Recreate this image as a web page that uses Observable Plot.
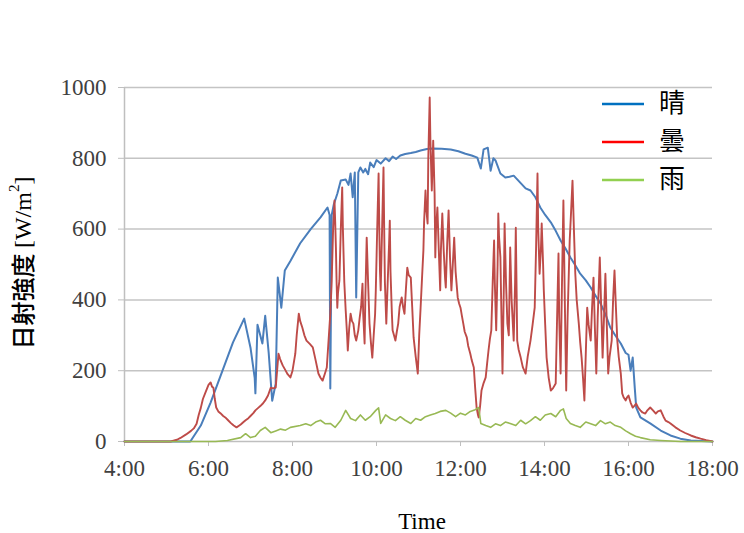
<!DOCTYPE html>
<html><head><meta charset="utf-8">
<script src="https://cdn.jsdelivr.net/npm/d3@7"></script>
<script src="https://cdn.jsdelivr.net/npm/@observablehq/plot@0.6"></script>
<style>body{margin:0;background:#fff}</style>
</head><body><div id="chart"></div>
<script>
// time in minutes since 0:00
const xTicks = [240, 360, 480, 600, 720, 840, 960, 1080];
const xTickLabels = ["4:00", "6:00", "8:00", "10:00", "12:00", "14:00", "16:00", "18:00"];
const yTicks = [0, 200, 400, 600, 800, 1000];
const seriesNames = ["晴", "曇", "雨"];
const seriesColors = ["#4A7EBB", "#BE4B48", "#98B954"];
const legendColors = ["#0070C0", "#FF0000", "#92D050"];
const xLabel = "Time";

// 晴 (clear): [minute, W/m2]
const clear = [[240,0],[334,0],[349,45],[363,110],[380,200],[395,280],[411,347],[420,265],[426,180],[427,136],[430,330],[437,277],[441,355],[446,250],[451,115],[456,163],[459,463],[464,378],[469,483],[477,510],[491,560],[506,600],[520,633],[530,661],[533,640],[534,150],[536,640],[539,670],[544,700],[549,737],[556,740],[560,725],[563,757],[566,690],[569,760],[571,407],[574,760],[577,774],[581,760],[584,770],[588,755],[591,788],[596,775],[600,795],[606,785],[613,800],[618,792],[623,805],[628,798],[634,808],[641,812],[649,815],[656,818],[663,822],[672,826],[680,828],[693,827],[706,825],[717,820],[727,813],[736,808],[744,802],[749,771],[753,825],[759,830],[763,765],[767,800],[770,794],[777,757],[784,746],[790,748],[796,751],[806,730],[813,715],[820,709],[827,690],[834,661],[841,640],[849,619],[856,595],[863,568],[870,545],[877,520],[884,498],[891,474],[899,455],[906,435],[913,412],[920,390],[927,360],[934,322],[941,300],[949,277],[956,250],[960,245],[963,200],[966,237],[969,150],[971,96],[977,68],[991,51],[1006,31],[1020,17],[1034,8],[1049,3],[1080,0]];

// 曇 (cloudy)
const cloudy = [[240,0],[306,0],[315,5],[320,10],[328,20],[335,30],[339,37],[343,50],[346,75],[349,95],[352,120],[356,140],[360,160],[363,167],[365,155],[367,152],[369,120],[371,96],[374,85],[377,80],[381,72],[384,68],[388,60],[392,52],[396,45],[400,40],[403,44],[406,48],[410,55],[413,60],[417,66],[420,72],[424,80],[427,88],[431,95],[434,100],[438,108],[441,116],[445,130],[449,152],[452,150],[456,152],[458,200],[460,248],[462,235],[463,229],[466,215],[470,201],[473,190],[477,181],[480,200],[484,248],[486,300],[489,361],[491,340],[494,322],[497,300],[500,285],[505,275],[509,266],[513,230],[517,192],[520,180],[523,172],[526,190],[529,209],[532,300],[534,361],[536,455],[538,600],[540,681],[541,620],[542,548],[543,450],[544,378],[545,420],[547,455],[549,600],[551,718],[552,600],[554,450],[556,370],[558,300],[559,257],[561,320],[563,361],[565,340],[567,333],[569,300],[571,285],[574,314],[576,350],[578,380],[580,446],[581,360],[583,277],[584,400],[586,576],[588,450],[590,333],[592,280],[594,237],[596,300],[598,360],[599,427],[601,600],[603,757],[604,600],[605,480],[606,427],[608,600],[610,774],[611,600],[612,450],[614,333],[616,450],[618,560],[619,624],[620,480],[622,360],[623,314],[625,300],[627,285],[629,310],[631,333],[633,380],[636,407],[638,380],[640,361],[642,430],[644,491],[646,470],[649,463],[651,380],[653,294],[656,240],[659,192],[661,300],[663,378],[665,460],[667,540],[668,620],[670,709],[671,660],[673,616],[674,800],[676,972],[677,850],[679,709],[680,780],[681,850],[683,700],[684,520],[685,600],[687,661],[689,540],[691,427],[692,540],[694,644],[696,540],[698,460],[699,435],[701,560],[703,653],[705,520],[707,427],[709,500],[711,576],[713,480],[716,407],[718,390],[720,378],[722,355],[724,333],[726,310],[729,294],[731,270],[734,248],[736,230],[739,209],[741,150],[743,96],[745,75],[746,68],[748,100],[750,144],[753,165],[756,181],[758,220],[760,257],[762,290],[764,314],[766,450],[768,568],[769,450],[771,314],[773,500],[774,644],[775,580],[777,520],[779,300],[780,192],[782,450],[783,616],[785,450],[787,333],[789,300],[791,548],[793,400],[796,285],[798,450],[799,604],[800,450],[801,285],[803,260],[806,237],[809,210],[813,192],[816,240],[820,285],[823,330],[826,378],[828,550],[830,757],[831,600],[833,474],[835,550],[836,616],[838,500],[839,427],[841,330],[843,237],[846,180],[849,144],[852,150],[856,164],[858,350],[860,531],[861,350],[863,192],[865,450],[867,681],[869,400],[871,144],[873,350],[876,568],[878,650],[880,737],[882,600],[884,474],[886,400],[889,333],[891,280],[893,237],[895,180],[897,116],[899,250],[901,378],[903,330],[906,285],[908,380],[910,463],[912,320],[914,192],[916,350],[919,520],[921,380],[923,237],[925,350],[927,474],[929,330],[931,192],[933,240],[936,285],[938,400],[940,483],[942,380],[944,285],[946,240],[949,192],[951,136],[953,125],[956,116],[958,125],[960,130],[963,110],[966,96],[968,100],[971,107],[974,95],[977,88],[980,82],[984,79],[987,88],[991,96],[995,88],[999,79],[1002,85],[1006,88],[1010,70],[1013,59],[1017,55],[1020,51],[1027,40],[1034,31],[1041,24],[1049,17],[1056,12],[1063,8],[1071,4],[1080,0]];

// 雨 (rain)
const rain = [[240,0],[370,0],[387,3],[406,11],[413,22],[420,11],[427,15],[434,31],[441,40],[449,25],[456,30],[463,35],[470,32],[477,40],[491,45],[499,50],[506,45],[513,55],[520,60],[527,50],[534,51],[541,40],[549,60],[556,88],[563,65],[570,59],[577,75],[584,60],[591,70],[599,88],[603,95],[606,51],[613,75],[620,65],[627,59],[634,70],[641,60],[649,51],[656,65],[663,60],[670,70],[677,75],[684,79],[691,85],[699,88],[706,80],[713,70],[720,80],[727,75],[734,85],[741,90],[746,96],[749,51],[756,45],[763,40],[770,50],[777,45],[784,55],[791,51],[799,45],[806,60],[813,50],[820,59],[827,70],[834,60],[841,75],[849,79],[856,70],[863,88],[867,92],[871,65],[877,51],[884,45],[891,40],[899,55],[906,50],[913,45],[920,59],[927,50],[934,55],[941,45],[949,40],[956,30],[963,22],[970,15],[977,11],[991,5],[1006,3],[1034,0],[1080,0]];

const toRows = arr => arr.map(([t, v]) => ({t, v}));
const series = [toRows(clear), toRows(cloudy), toRows(rain)];
const widths = [2, 1.9, 1.6];

const axisGrey = "#bfbfbf";
const chart = Plot.plot({
  width: 744,
  height: 533,
  marginLeft: 124,
  marginRight: 32,
  marginTop: 87,
  marginBottom: 92,
  style: {fontFamily: "Liberation Serif", fontSize: "23px", color: "#404040", background: "#fff"},
  x: {domain: [240, 1080], label: null},
  y: {domain: [0, 1000], label: null},
  marks: [
    Plot.ruleY(yTicks.filter(d => d > 0), {stroke: "#c4c4c4", strokeWidth: 1.5}),
    Plot.axisY({ticks: yTicks, tickFormat: d => String(d), tickSize: 6, tickPadding: 12, stroke: axisGrey, fill: "#404040", label: null}),
    Plot.axisX({ticks: xTicks, tickFormat: d => xTickLabels[xTicks.indexOf(d)], tickSize: 5, tickPadding: 13, stroke: axisGrey, fill: "#404040", label: null}),
    Plot.ruleX([240], {stroke: axisGrey, strokeWidth: 1.5}),
    Plot.ruleY([0], {stroke: axisGrey, strokeWidth: 1.5}),
    ...series.map((s, i) => Plot.line(s, {x: "t", y: "v", stroke: seriesColors[i], strokeWidth: widths[i], strokeLinejoin: "round"}))
  ]
});

const svg = d3.select(chart);
// y-axis label
const yl = svg.append("text")
  .attr("transform", "translate(25,263) rotate(-90)")
  .attr("text-anchor", "middle")
  .attr("dominant-baseline", "middle")
  .attr("fill", "#000")
  .style("font-size", "24px");
yl.append("tspan").style("font-family", "'Noto Sans CJK JP'").style("font-weight", "500").text("日射強度 ");
yl.append("tspan").style("font-family", "'Liberation Serif'").text("[W/m");
yl.append("tspan").style("font-family", "'Liberation Serif'").style("font-size", "15px").attr("dy", "-9").text("2");
yl.append("tspan").style("font-family", "'Liberation Serif'").attr("dy", "9").text("]");

// x-axis label
svg.append("text")
  .attr("x", 422).attr("y", 524)
  .attr("text-anchor", "middle").attr("dominant-baseline", "middle")
  .attr("fill", "#000")
  .style("font-family", "'Liberation Serif'").style("font-size", "23px")
  .text(xLabel);

// legend
const legendY = [104, 142, 180];
seriesNames.forEach((name, i) => {
  svg.append("line")
    .attr("x1", 602).attr("x2", 644).attr("y1", legendY[i]).attr("y2", legendY[i])
    .attr("stroke", legendColors[i]).attr("stroke-width", 2.5);
  svg.append("text")
    .attr("x", 659).attr("y", legendY[i] + 1)
    .attr("text-anchor", "start")
    .attr("dominant-baseline", "middle")
    .attr("fill", "#000")
    .style("font-family", "'Noto Sans CJK JP'").style("font-size", "26px")
    .text(name);
});

document.getElementById("chart").appendChild(chart);
</script>
</body></html>
